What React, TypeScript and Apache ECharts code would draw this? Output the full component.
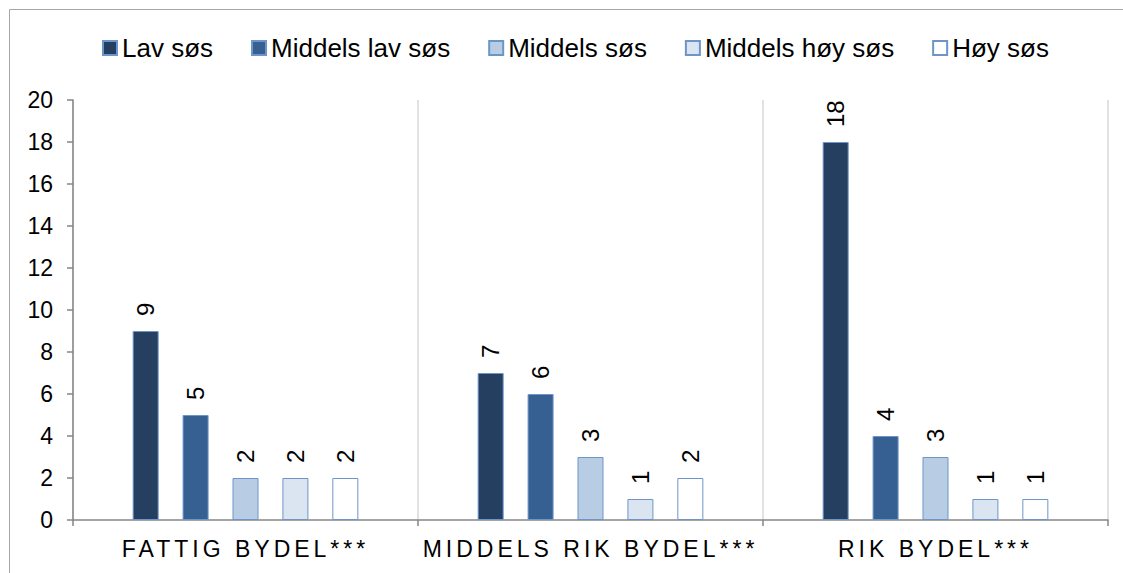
import React, { useEffect, useRef } from "react";
import * as echarts from "echarts";

const categories = ["FATTIG BYDEL***", "MIDDELS RIK BYDEL***", "RIK BYDEL***"];
const seriesNames = ["Lav søs", "Middels lav søs", "Middels søs", "Middels høy søs", "Høy søs"];
const lavSos = [9, 7, 18];
const middelsLavSos = [5, 6, 4];
const middelsSos = [2, 3, 3];
const middelsHoySos = [2, 1, 1];
const hoySos = [2, 2, 1];
const seriesValues = [lavSos, middelsLavSos, middelsSos, middelsHoySos, hoySos];
const seriesColors = ["#243F60", "#366092", "#B8CCE4", "#DBE5F1", "#FFFFFF"];
const yTicks = { min: 0, max: 20, interval: 2 };

const FONT = "'Liberation Sans', Arial, sans-serif";

export default function App() {
  const ref = useRef<HTMLDivElement>(null);
  useEffect(() => {
    if (!ref.current) return;
    const chart = echarts.init(ref.current, undefined, { renderer: "svg" });
    const option: any = {
      animation: false,
      textStyle: { fontFamily: FONT },
      tooltip: { show: false },
      graphic: [
        {
          type: "rect",
          silent: true,
          z: -10,
          shape: { x: 9.5, y: 9.5, width: 1300, height: 800 },
          style: { fill: "none", stroke: "#a6a6a6", lineWidth: 1 },
        },
      ],
      legend: {
        left: 97,
        top: 30,
        itemWidth: 14,
        itemHeight: 14,
        itemGap: 38,
        selectedMode: false,
        icon: "rect",
        textStyle: { fontFamily: FONT, fontSize: 26, color: "#000" },
        data: seriesNames,
      },
      grid: { left: 73, right: 15, top: 100, bottom: 53, containLabel: false },
      xAxis: {
        type: "category",
        data: categories,
        axisLine: { lineStyle: { color: "#868686", width: 1.5 } },
        axisTick: { show: true, length: 6, lineStyle: { color: "#868686", width: 1.5 } },
        splitLine: { show: true, lineStyle: { color: "#d9d9d9", width: 1.5 } },
        axisLabel: { fontFamily: FONT, fontSize: 23, color: "#000", margin: 17 },
      },
      yAxis: {
        type: "value",
        min: yTicks.min,
        max: yTicks.max,
        interval: yTicks.interval,
        axisLine: { show: true, lineStyle: { color: "#868686", width: 1.5 } },
        axisTick: { show: true, length: 6, lineStyle: { color: "#868686", width: 1.5 } },
        splitLine: { show: false },
        axisLabel: { fontFamily: FONT, fontSize: 23, color: "#000", margin: 20 },
      },
      series: seriesNames.map((name, i) => ({
        name,
        type: "bar",
        data: seriesValues[i],
        barWidth: 26,
        barGap: "92%",
        itemStyle: { color: seriesColors[i], borderColor: "#6E95C9", borderWidth: 1 },
        emphasis: { disabled: true },
        label: {
          show: true,
          position: "top",
          rotate: 90,
          align: "left",
          verticalAlign: "middle",
          distance: 15,
          fontFamily: FONT,
          fontSize: 24,
          color: "#000",
        },
      })),
    };
    chart.setOption(option);
    const applySpacing = () => {
      const texts = ref.current?.querySelectorAll("text") || [];
      texts.forEach((t: any) => {
        if (categories.includes((t.textContent || "").trim())) {
          t.style.letterSpacing = "4px";
        }
      });
    };
    applySpacing();
    chart.on("finished", applySpacing);
    const timer = setTimeout(applySpacing, 50);
    return () => {
      clearTimeout(timer);
      chart.dispose();
    };
  }, []);
  return (
    <div
      ref={ref}
      style={{ position: "absolute", left: 0, top: 0, width: 1123, height: 573, background: "#fff" }}
    />
  );
}
